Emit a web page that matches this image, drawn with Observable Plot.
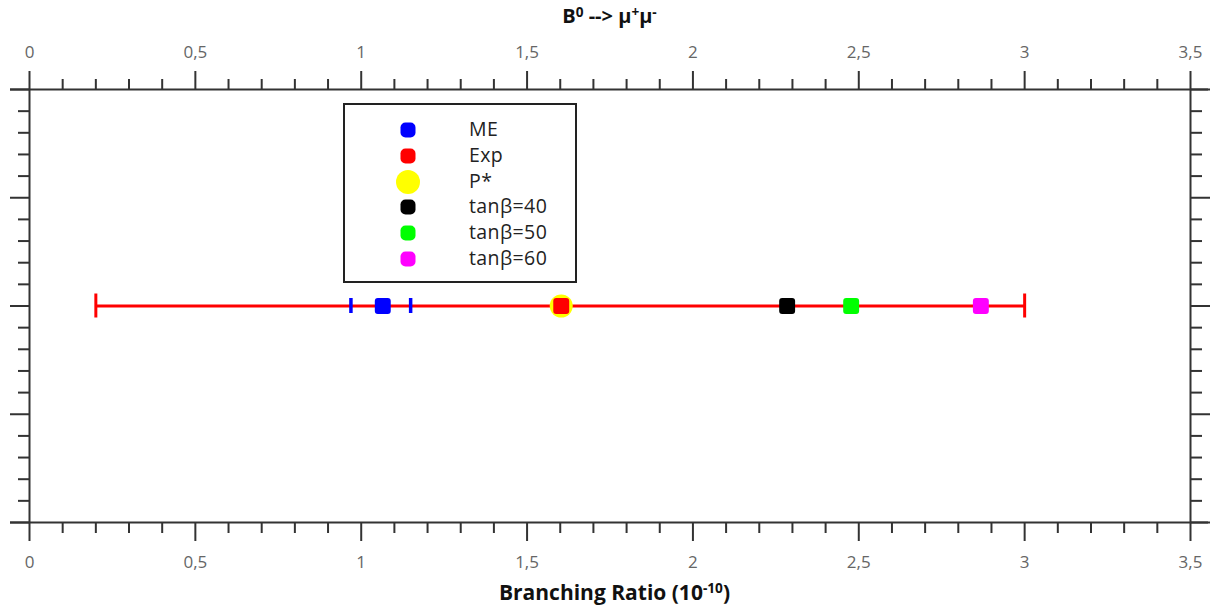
<!DOCTYPE html>
<html>
<head>
<meta charset="utf-8">
<script src="https://cdn.jsdelivr.net/npm/d3@7"></script>
<script src="https://cdn.jsdelivr.net/npm/@observablehq/plot@0.6"></script>
<style>
  body { margin: 0; background: #fff; }
  #wrap { position: relative; width: 1228px; height: 611px; font-family: "Open Sans", sans-serif; }
  #wrap svg { position: absolute; left: 0; top: 0; }
  .title, .xlabel { position: absolute; left: 0; width: 1219px; text-align: center; font-weight: bold; color: #111; line-height: 1; }
  .title { top: 6px; font-size: 20px; }
  .title sup { font-size: 0.68em; vertical-align: 0.42em; }
  .xlabel { top: 582px; left: 5px; font-size: 21px; }
  sup { font-size: 0.65em; vertical-align: 0.5em; line-height: 0; }
  #legend { position: absolute; left: 343px; top: 103px; width: 230px; height: 176px; border: 2px solid #222; background: #fff; }
  .item { position: absolute; left: 0; height: 24px; width: 230px; }
  .item .mk { position: absolute; top: 50%; transform: translate(-50%, -50%); }
  .item .lb { position: absolute; left: 124px; top: 50%; transform: translateY(-54%); font-size: 19.5px; letter-spacing: 0.4px; color: #222; white-space: nowrap; }
</style>
</head>
<body>
<div id="wrap"></div>
<script>
// B0 -> mu+ mu- branching ratio, in units of 1e-10
const labels = ["ME", "Exp", "P*", "tanβ=40", "tanβ=50", "tanβ=60"];
const values = [1.065, 1.603, 1.603, 2.284, 2.477, 2.868];
const colors = ["#0000ff", "#ff0000", "#ffff00", "#000000", "#00ff00", "#ff00ff"];

// uncertainty ranges
const meRange = [0.969, 1.149];   // ME
const expRange = [0.2, 3.0];      // Exp

// axis ticks
const majorX = [0, 0.5, 1, 1.5, 2, 2.5, 3, 3.5];
const minorX = d3.range(0, 36).map(i => i / 10).filter(v => !majorX.includes(v));
const majorY = [0, 1, 2, 3, 4];
const minorY = d3.range(0, 21).map(i => i / 5).filter(v => !majorY.includes(v));

const row = 2; // the single measurement row, centred vertically
const fmt = d => d3.format(".1~f")(d).replace(".", ",");
const blank = () => "";

const points = labels.map((name, i) => ({name, value: values[i], color: colors[i], y: row}));
const bigDot = points.filter(d => d.name === "P*");
const smallDots = points.filter(d => d.name !== "P*");
const expCaps = expRange.map(v => ({v}));
const meCaps = meRange.map(v => ({v}));

const axisStyle = {stroke: "#333", strokeWidth: 2, fill: "#666", fontSize: 17, label: null};
const tickOnly = {stroke: "#333", strokeWidth: 2, fill: "none", label: null, tickFormat: blank};

const chart = Plot.plot({
  width: 1228,
  height: 611,
  marginTop: 89,
  marginBottom: 89,
  marginLeft: 29,
  marginRight: 38,
  style: {fontFamily: "'Open Sans', sans-serif", background: "transparent"},
  x: {domain: [0, 3.5]},
  y: {domain: [0, 4]},
  marks: [
    // frame
    Plot.ruleY([0, 4], {stroke: "#333", strokeWidth: 2, insetLeft: -19, insetRight: -18}),
    Plot.ruleX([0, 3.5], {stroke: "#333", strokeWidth: 2}),
    // top / bottom axes
    Plot.axisX({...axisStyle, anchor: "top", ticks: majorX, tickSize: 19, tickPadding: 13, tickFormat: fmt}),
    Plot.axisX({...tickOnly, anchor: "top", ticks: minorX, tickSize: 11}),
    Plot.axisX({...axisStyle, anchor: "bottom", ticks: majorX, tickSize: 19, tickPadding: 14, tickFormat: fmt}),
    Plot.axisX({...tickOnly, anchor: "bottom", ticks: minorX, tickSize: 11}),
    // left / right axes (ticks only)
    Plot.axisY({...tickOnly, anchor: "left", ticks: majorY, tickSize: 19}),
    Plot.axisY({...tickOnly, anchor: "left", ticks: minorY, tickSize: 11}),
    Plot.axisY({...tickOnly, anchor: "right", ticks: majorY, tickSize: 19}),
    Plot.axisY({...tickOnly, anchor: "right", ticks: minorY, tickSize: 11}),
    // experimental range
    Plot.ruleY([row], {x1: expRange[0], x2: expRange[1], stroke: colors[1], strokeWidth: 3}),
    // error-bar caps
    Plot.ruleX(expCaps, {x: "v", y1: row, y2: row, stroke: colors[1], strokeWidth: 3, insetTop: -12, insetBottom: -12}),
    Plot.ruleX(meCaps, {x: "v", y1: row, y2: row, stroke: colors[0], strokeWidth: 3.5, insetTop: -7.5, insetBottom: -7.5}),
    // points: rounded squares, P* as a larger disc
    Plot.dot(bigDot, {x: "value", y: "y", r: 11.5, fill: "color", stroke: "none"}),
    Plot.dot(smallDots, {x: "value", y: "y", symbol: "square", r: 5.6, fill: "color", stroke: "color", strokeWidth: 6, strokeLinejoin: "round"})
  ]
});

const wrap = document.getElementById("wrap");
wrap.appendChild(chart);

const title = document.createElement("div");
title.className = "title";
title.innerHTML = "B<sup>0</sup> --&gt; μ<sup>+</sup>μ<sup>-</sup>";
wrap.appendChild(title);

const xlabel = document.createElement("div");
xlabel.className = "xlabel";
xlabel.innerHTML = "Branching Ratio (10<sup>-10</sup>)";
wrap.appendChild(xlabel);

// legend box
const legend = document.createElement("div");
legend.id = "legend";
labels.forEach((name, i) => {
  const item = document.createElement("div");
  item.className = "item";
  item.style.top = (13 + i * 25.8) + "px";
  const mk = document.createElement("div");
  mk.className = "mk";
  const big = name === "P*";
  const s = big ? 24 : 15;
  mk.style.left = "63px";
  mk.style.width = s + "px";
  mk.style.height = s + "px";
  mk.style.background = colors[i];
  mk.style.borderRadius = big ? "50%" : "5px";
  const lb = document.createElement("div");
  lb.className = "lb";
  lb.textContent = name;
  item.appendChild(mk);
  item.appendChild(lb);
  legend.appendChild(item);
});
wrap.appendChild(legend);
</script>
</body>
</html>
